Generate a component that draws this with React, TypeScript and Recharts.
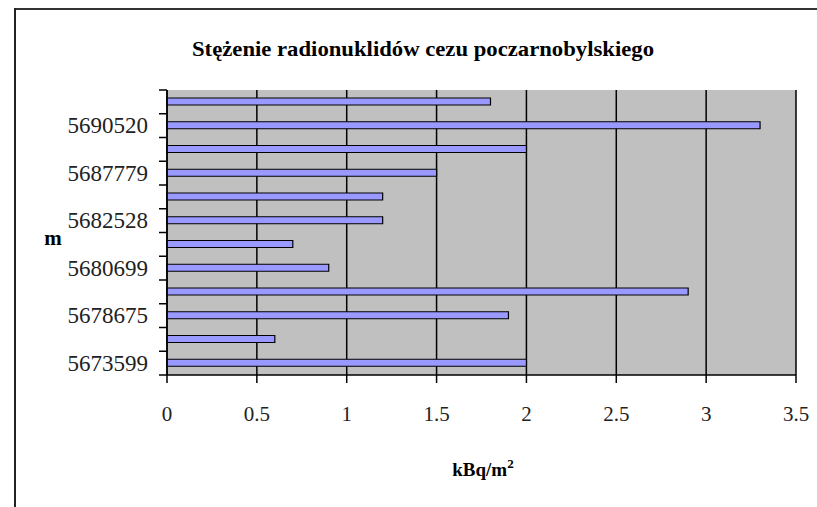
import { BarChart, Bar, XAxis, YAxis, CartesianGrid } from 'recharts';

// categories listed bottom-up, as in the original sheet (only every other label shown)
const stations = ['5673599', 'p1', '5678675', 'p3', '5680699', 'p5', '5682528', 'p7', '5687779', 'p9', '5690520', 'p11'];
const shownLabels = ['5673599', '', '5678675', '', '5680699', '', '5682528', '', '5687779', '', '5690520', ''];
const cesium = [2.0, 0.6, 1.9, 2.9, 0.9, 0.7, 1.2, 1.2, 1.5, 2.0, 3.3, 1.8];
const xTicks = [0, 0.5, 1, 1.5, 2, 2.5, 3, 3.5];

const data = stations.map((station, i) => ({ station, value: cesium[i] }));
const labelOf: Record<string, string> = {};
stations.forEach((s, i) => (labelOf[s] = shownLabels[i]));

const FONT = '"Liberation Serif", "Times New Roman", serif';
const TICK_SIZE = 8;
const TICK_MARGIN = 11;

function CategoryTick(props: any) {
  const { x, y, payload, index } = props;
  const half = payload?.offset ?? 285 / 24;
  const x1 = x + TICK_MARGIN;
  const x2 = x1 + TICK_SIZE;
  const label = labelOf[payload.value];
  return (
    <g>
      <line x1={x1} x2={x2} y1={y - half} y2={y - half} stroke="#000" strokeWidth={1.5} />
      {index === 0 && <line x1={x1} x2={x2} y1={y + half} y2={y + half} stroke="#000" strokeWidth={1.5} />}
      {label && (
        <text x={x} y={y} textAnchor="end" dominantBaseline="central" fontFamily={FONT} fontSize={23} fill="#222">
          {label}
        </text>
      )}
    </g>
  );
}

export default function App() {
  return (
    <div style={{ position: 'absolute', left: 0, top: 0, width: 817, height: 507, background: '#fff' }}>
      <svg width={817} height={507} style={{ position: 'absolute', left: 0, top: 0 }}>
        <line x1={15} y1={9} x2={817} y2={9} stroke="#333" strokeWidth={2} />
        <line x1={15} y1={8} x2={15} y2={507} stroke="#222" strokeWidth={2} />
        <text x={423} y={56} textAnchor="middle" fontFamily={FONT} fontWeight="bold" fontSize={22} textLength={462} lengthAdjust="spacingAndGlyphs" fill="#000">
          Stężenie radionuklidów cezu poczarnobylskiego
        </text>
        <text x={53} y={245} textAnchor="middle" fontFamily={FONT} fontWeight="bold" fontSize={21} fill="#000">
          m
        </text>
        <text x={483} y={476} textAnchor="middle" fontFamily={FONT} fontWeight="bold" fontSize={19} fill="#000">
          kBq/m<tspan dy={-8} fontSize={13}>2</tspan>
        </text>
      </svg>
      <div style={{ position: 'absolute', left: 0, top: 0 }}>
        <BarChart
          width={817}
          height={507}
          data={data}
          layout="vertical"
          margin={{ top: 90, right: 21, bottom: 0, left: 0 }}
        >
          <CartesianGrid horizontal={false} vertical={true} stroke="#000" strokeWidth={1.5} fill="#C0C0C0" />
          <XAxis
            type="number"
            domain={[0, 3.5]}
            ticks={xTicks}
            height={132}
            tickSize={TICK_SIZE}
            tickMargin={23}
            axisLine={{ stroke: '#000', strokeWidth: 1.5 }}
            tickLine={{ stroke: '#000', strokeWidth: 1.5 }}
            tick={{ fontFamily: FONT, fontSize: 21, fill: '#222' }}
          />
          <XAxis xAxisId="top" orientation="top" type="number" domain={[0, 3.5]} height={0} tick={false} tickLine={false} axisLine={{ stroke: '#808080', strokeWidth: 1.5 }} />
          <YAxis
            type="category"
            dataKey="station"
            reversed
            width={167}
            interval={0}
            tickSize={TICK_SIZE}
            tickMargin={TICK_MARGIN}
            tickLine={false}
            axisLine={{ stroke: '#000', strokeWidth: 1.5 }}
            tick={<CategoryTick />}
          />
          <YAxis yAxisId="right" orientation="right" type="category" dataKey="station" reversed width={0} tick={false} tickLine={false} axisLine={{ stroke: '#808080', strokeWidth: 1.5 }} />
          <Bar dataKey="value" barSize={7} fill="#9999FF" stroke="#000" strokeWidth={1.2} isAnimationActive={false} />
        </BarChart>
      </div>
    </div>
  );
}
